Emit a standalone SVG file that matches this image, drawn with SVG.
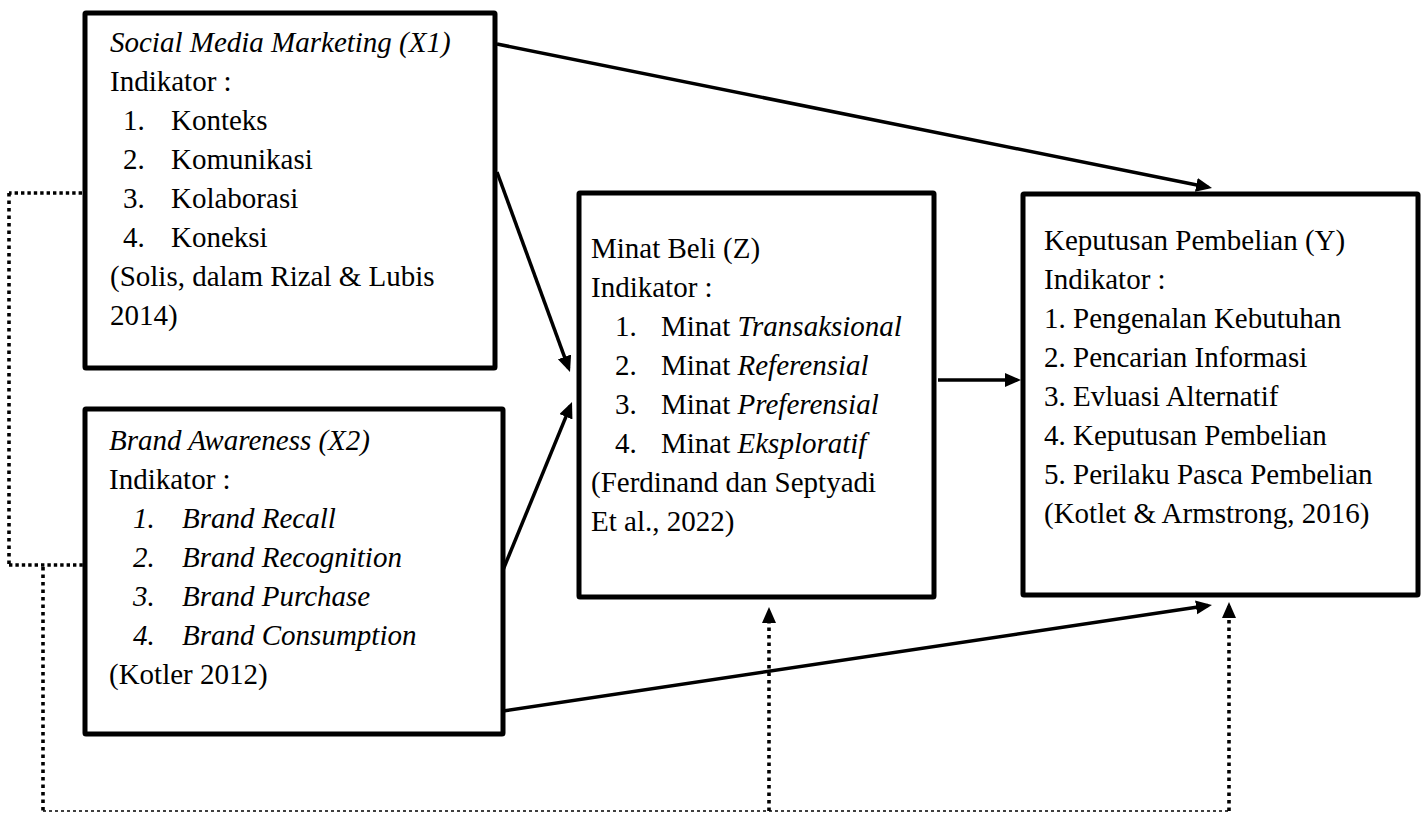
<svg xmlns="http://www.w3.org/2000/svg" width="1426" height="813" viewBox="0 0 1426 813">
<style>
.box{fill:#fff;stroke:#000;stroke-width:5;stroke-linejoin:round}
text{font-family:"Liberation Serif","Times New Roman",serif;font-size:29px;fill:#000}
.it{font-style:italic}
.solid{fill:none;stroke:#000;stroke-width:3.5}
.dot{fill:none;stroke:#000;stroke-width:3.6;stroke-dasharray:3.5 4}
.doth{fill:none;stroke:#000;stroke-width:3.6;stroke-dasharray:3.4 3}
.dash{fill:none;stroke:#000;stroke-width:1.6;stroke-dasharray:3 3}
</style>
<defs>
<marker id="ah" markerUnits="userSpaceOnUse" markerWidth="17" markerHeight="15" refX="12" refY="7" orient="auto">
<path d="M0,0 L16,7 L0,14 z" fill="#000"/>
</marker>
</defs>
<rect width="1426" height="813" fill="#fff"/>
<g id="connectors">
<line class="solid" x1="497" y1="44" x2="1208.1" y2="187.2" marker-end="url(#ah)"/>
<line class="solid" x1="497" y1="172" x2="568.6" y2="368.2" marker-end="url(#ah)"/>
<line class="solid" x1="503" y1="570" x2="570.5" y2="405.7" marker-end="url(#ah)"/>
<line class="solid" x1="938" y1="380" x2="1017" y2="380" marker-end="url(#ah)"/>
<line class="solid" x1="503" y1="711" x2="1208" y2="605.6" marker-end="url(#ah)"/>
<line class="doth" x1="82" y1="193" x2="9" y2="193"/>
<line class="dot" x1="9" y1="193" x2="9" y2="565"/>
<line class="doth" x1="9" y1="565" x2="83" y2="565"/>
<line class="dot" x1="43" y1="567" x2="43" y2="811"/>
<line class="dash" x1="43" y1="811" x2="1229" y2="811"/>
<line class="dot" x1="769" y1="811" x2="769" y2="611" marker-end="url(#ah)"/>
<line class="dot" x1="1229" y1="811" x2="1229" y2="606" marker-end="url(#ah)"/>
</g>
<g id="node-x1">
<rect class="box" x="85" y="13" width="410" height="355" rx="1"/>
<text x="110" y="52" class="it">Social Media Marketing (X1)</text>
<text x="110" y="91">Indikator :</text>
<text x="123" y="130">1.</text><text x="171" y="130">Konteks</text>
<text x="123" y="169">2.</text><text x="171" y="169">Komunikasi</text>
<text x="123" y="208">3.</text><text x="171" y="208">Kolaborasi</text>
<text x="123" y="247">4.</text><text x="171" y="247">Koneksi</text>
<text x="110" y="286">(Solis, dalam Rizal &amp; Lubis</text>
<text x="110" y="325">2014)</text>
</g>
<g id="node-x2">
<rect class="box" x="85" y="409" width="418" height="325" rx="1"/>
<text x="109" y="450" class="it">Brand Awareness (X2)</text>
<text x="109" y="489">Indikator :</text>
<text x="133" y="528" class="it">1.</text><text x="182" y="528" class="it">Brand Recall</text>
<text x="133" y="567" class="it">2.</text><text x="182" y="567" class="it">Brand Recognition</text>
<text x="133" y="606" class="it">3.</text><text x="182" y="606" class="it">Brand Purchase</text>
<text x="133" y="645" class="it">4.</text><text x="182" y="645" class="it">Brand Consumption</text>
<text x="109" y="684">(Kotler 2012)</text>
</g>
<g id="node-z">
<rect class="box" x="579" y="193" width="355" height="404" rx="1"/>
<text x="591" y="258">Minat Beli (Z)</text>
<text x="591" y="297">Indikator :</text>
<text x="615" y="336">1.</text><text x="661" y="336">Minat <tspan class="it">Transaksional</tspan></text>
<text x="615" y="375">2.</text><text x="661" y="375">Minat <tspan class="it">Referensial</tspan></text>
<text x="615" y="414">3.</text><text x="661" y="414">Minat <tspan class="it">Preferensial</tspan></text>
<text x="615" y="453">4.</text><text x="661" y="453">Minat <tspan class="it">Eksploratif</tspan></text>
<text x="591" y="492">(Ferdinand dan Septyadi</text>
<text x="591" y="531">Et al., 2022)</text>
</g>
<g id="node-y">
<rect class="box" x="1023" y="194" width="395" height="401" rx="1"/>
<text x="1044" y="250">Keputusan Pembelian (Y)</text>
<text x="1044" y="289">Indikator :</text>
<text x="1044" y="328">1. Pengenalan Kebutuhan</text>
<text x="1044" y="367">2. Pencarian Informasi</text>
<text x="1044" y="406">3. Evluasi Alternatif</text>
<text x="1044" y="445">4. Keputusan Pembelian</text>
<text x="1044" y="484">5. Perilaku Pasca Pembelian</text>
<text x="1044" y="523">(Kotlet &amp; Armstrong, 2016)</text>
</g>
</svg>
